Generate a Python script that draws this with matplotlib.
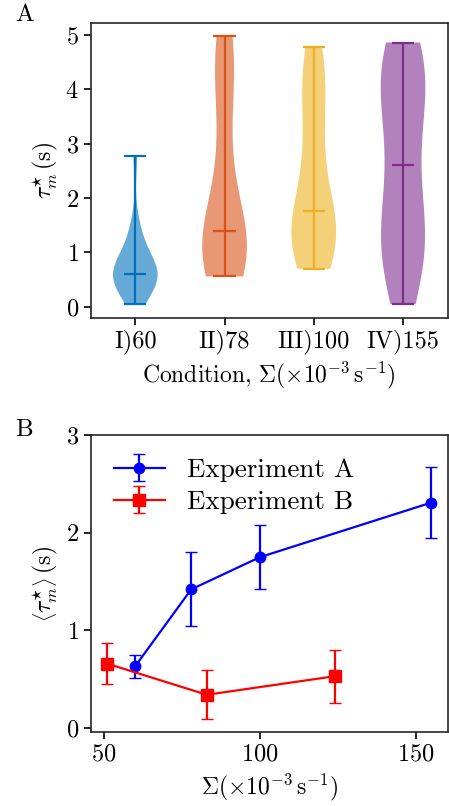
import matplotlib
matplotlib.use("Agg")
import matplotlib.pyplot as plt
import numpy as np

plt.rcParams['font.family'] = ['serif']
plt.rcParams['font.serif'] = ['cmr10']
plt.rcParams['mathtext.fontset'] = 'cm'
plt.rcParams['axes.formatter.use_mathtext'] = True
plt.rcParams['font.size'] = 17
plt.rcParams['xtick.labelsize'] = 17.5
plt.rcParams['ytick.labelsize'] = 17.5

# ---- Panel A data (estimated samples per condition) ----
conditions = ['I)60', 'II)78', 'III)100', 'IV)155']
tau_I = [0.05, 0.15, 0.3, 0.4, 0.45, 0.5, 0.55, 0.58, 0.59, 0.6, 0.65, 0.7,
         0.75, 0.85, 0.95, 1.1, 1.3, 1.55, 2.78]
tau_II = [0.56, 0.58, 0.62, 0.7, 0.78, 0.85, 0.92, 1.0, 1.05, 1.1, 1.2, 1.25,
          1.32, 1.4, 1.55, 1.7, 1.95, 2.3, 2.8, 3.3, 3.7, 4.1, 4.4, 4.6,
          4.75, 4.9, 4.98]
tau_III = [0.7, 0.75, 0.85, 0.95, 1.05, 1.12, 1.2, 1.28, 1.35, 1.42, 1.5,
           1.6, 1.7, 1.77, 1.95, 2.2, 2.5, 2.8, 3.1, 3.4, 3.65, 3.9, 4.1,
           4.3, 4.5, 4.65, 4.78]
tau_IV = [0.05, 0.2, 0.45, 0.7, 0.9, 1.05, 1.2, 1.3, 1.4, 1.55, 1.75, 2.0,
          2.3, 2.6, 2.9, 3.2, 3.45, 3.65, 3.85, 4.0, 4.15, 4.3, 4.45, 4.6,
          4.7, 4.8, 4.86]
violin_colors = ['#0072BD', '#D95319', '#EDB120', '#7E2F8E']

# ---- Panel B data ----
sigma_A = [60, 78, 100, 155]
tau_A = [0.63, 1.42, 1.75, 2.31]
err_A = [0.12, 0.38, 0.33, 0.36]
sigma_B = [51, 83, 124]
tau_B = [0.66, 0.34, 0.53]
err_B = [0.21, 0.25, 0.27]

fig = plt.figure(figsize=(4.49, 8.06), dpi=100)
axA = fig.add_axes([0.202, 0.606, 0.795, 0.366])
axB = fig.add_axes([0.202, 0.092, 0.795, 0.368])

data = [tau_I, tau_II, tau_III, tau_IV]
pos = np.arange(1, len(data) + 1)
vp = axA.violinplot(data, positions=pos, showmedians=True, showextrema=True)
for body, c in zip(vp['bodies'], violin_colors):
    body.set_facecolor(c)
    body.set_edgecolor('none')
    body.set_alpha(0.6)
for key in ['cbars', 'cmins', 'cmaxes', 'cmedians']:
    vp[key].set_color(violin_colors)
    vp[key].set_linewidth(1.6)
axA.set_xticks(pos)
axA.set_xticklabels(conditions)
axA.set_xlim(0.5, 4.5)
axA.set_yticks([0, 1, 2, 3, 4, 5])
axA.set_ylabel(r'$\tau_m^{\star}\,(\mathrm{s})$')
axA.set_xlabel(r'Condition, $\Sigma(\times 10^{-3}\,\mathrm{s}^{-1})$')

axB.errorbar(sigma_A, tau_A, yerr=err_A, color='b', marker='o', ms=7.5,
             lw=1.6, elinewidth=1.6, capsize=4, label='Experiment A')
axB.errorbar(sigma_B, tau_B, yerr=err_B, color='r', marker='s', ms=8,
             lw=1.6, elinewidth=1.6, capsize=4, label='Experiment B')
axB.set_ylim(-0.04, 3.0)
axB.set_yticks([0, 1, 2, 3])
axB.set_xticks([50, 100, 150])
axB.set_ylabel(r'$\left\langle\tau_m^{\star}\right\rangle\,(\mathrm{s})$')
axB.set_xlabel(r'$\Sigma(\times 10^{-3}\,\mathrm{s}^{-1})$')
axB.legend(loc='upper left', frameon=False, fontsize=19.5, handlelength=1.9,
           handletextpad=0.8, labelspacing=0.3, borderaxespad=0.45)

for ax in (axA, axB):
    for s in ax.spines.values():
        s.set_linewidth(1.2)
        s.set_color('#262626')
    ax.tick_params(length=5, width=1.2)

fig.text(0.033, 0.995, 'A', fontsize=18, va='top', ha='left')
fig.text(0.033, 0.48, 'B', fontsize=18, va='top', ha='left')

fig.savefig('out.png', dpi=100)
